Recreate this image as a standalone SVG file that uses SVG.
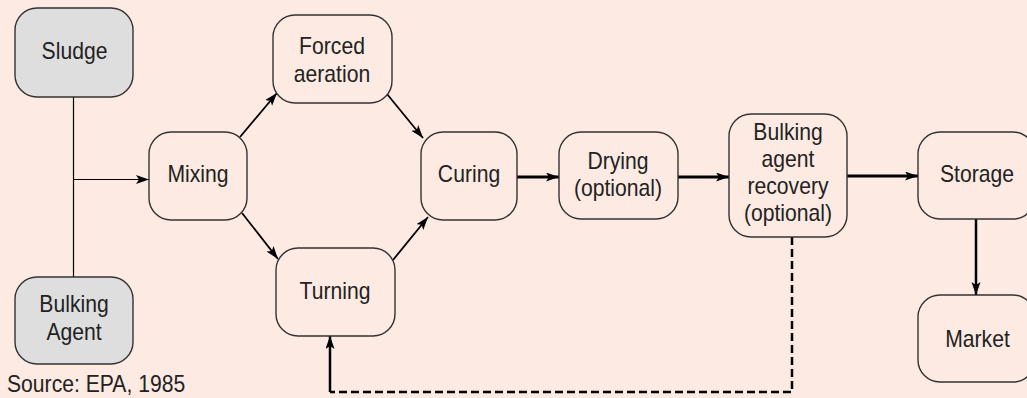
<svg xmlns="http://www.w3.org/2000/svg" width="1027" height="398" viewBox="0 0 1027 398">
<style>
.bg{fill:#fdebe3}
.box{fill:#fdebe3;stroke:#333;stroke-width:1.4}
.gray{fill:#dedede}
.t{font-family:"Liberation Sans",Arial,sans-serif;font-size:23px;fill:#222;text-anchor:middle}
.src{font-family:"Liberation Sans",Arial,sans-serif;font-size:23px;fill:#222}
.ln{fill:none;stroke:#000}
</style>
<defs>
<marker id="ah" markerUnits="userSpaceOnUse" markerWidth="14" markerHeight="10" refX="13" refY="4.5" orient="auto">
<path d="M0,0 L13,4.5 L0,9 L3,4.5 z" fill="#000"/>
</marker>
</defs>
<rect class="bg" x="0" y="0" width="1027" height="398"/>
<g id="connectors">
<path class="ln" stroke-width="1.2" d="M73.5,97 V277"/>
<path class="ln" stroke-width="1.2" d="M73.5,179.5 H149" marker-end="url(#ah)"/>
<path class="ln" stroke-width="1.8" d="M240,137 L277,93" marker-end="url(#ah)"/>
<path class="ln" stroke-width="1.8" d="M387,94 L423,138" marker-end="url(#ah)"/>
<path class="ln" stroke-width="1.8" d="M242,213 L278,259" marker-end="url(#ah)"/>
<path class="ln" stroke-width="1.8" d="M393,260 L428,217" marker-end="url(#ah)"/>
<path class="ln" stroke-width="3" d="M517,177 H559" marker-end="url(#ah)"/>
<path class="ln" stroke-width="3" d="M678,177 H729" marker-end="url(#ah)"/>
<path class="ln" stroke-width="3" d="M847,176 H918" marker-end="url(#ah)"/>
<path class="ln" stroke-width="2.5" d="M976,219 V295" marker-end="url(#ah)"/>
<path class="ln" stroke-width="2.5" stroke-dasharray="8,4" d="M792,237 V392 H330"/>
<path class="ln" stroke-width="2.5" d="M330,392 V336" marker-end="url(#ah)"/>
</g>
<g id="sludge">
<rect class="box gray" x="15" y="8" width="118" height="89" rx="22"/>
<text class="t" transform="translate(74.5,59) scale(0.92,1)">Sludge</text>
</g>
<g id="bulking-agent">
<rect class="box gray" x="15" y="277" width="118" height="87" rx="22"/>
<text class="t" transform="translate(74,312) scale(0.92,1)"><tspan x="0" y="0">Bulking</tspan><tspan x="0" y="28">Agent</tspan></text>
</g>
<g id="mixing">
<rect class="box" x="149" y="132" width="98" height="88" rx="22"/>
<text class="t" transform="translate(198,182) scale(0.92,1)">Mixing</text>
</g>
<g id="forced-aeration">
<rect class="box" x="273" y="15" width="119" height="88" rx="22"/>
<text class="t" transform="translate(332,54) scale(0.92,1)"><tspan x="0" y="0">Forced</tspan><tspan x="0" y="28">aeration</tspan></text>
</g>
<g id="turning">
<rect class="box" x="276" y="248" width="119" height="88" rx="22"/>
<text class="t" transform="translate(335,299) scale(0.92,1)">Turning</text>
</g>
<g id="curing">
<rect class="box" x="421" y="132" width="96" height="88" rx="22"/>
<text class="t" transform="translate(469,182) scale(0.92,1)">Curing</text>
</g>
<g id="drying">
<rect class="box" x="559" y="132" width="119" height="87" rx="22"/>
<text class="t" transform="translate(618,169) scale(0.92,1)"><tspan x="0" y="0">Drying</tspan><tspan x="0" y="27">(optional)</tspan></text>
</g>
<g id="bulking-agent-recovery">
<rect class="box" x="729" y="114" width="118" height="123" rx="22"/>
<text class="t" transform="translate(788,140) scale(0.92,1)"><tspan x="0" y="0">Bulking</tspan><tspan x="0" y="27">agent</tspan><tspan x="0" y="54">recovery</tspan><tspan x="0" y="81">(optional)</tspan></text>
</g>
<g id="storage">
<rect class="box" x="918" y="132" width="117" height="87" rx="22"/>
<text class="t" transform="translate(977,182) scale(0.92,1)">Storage</text>
</g>
<g id="market">
<rect class="box" x="918" y="295" width="117" height="87" rx="22"/>
<text class="t" transform="translate(977.5,347) scale(0.92,1)">Market</text>
</g>
<text class="src" transform="translate(7,392) scale(0.92,1)">Source: EPA, 1985</text>
</svg>
